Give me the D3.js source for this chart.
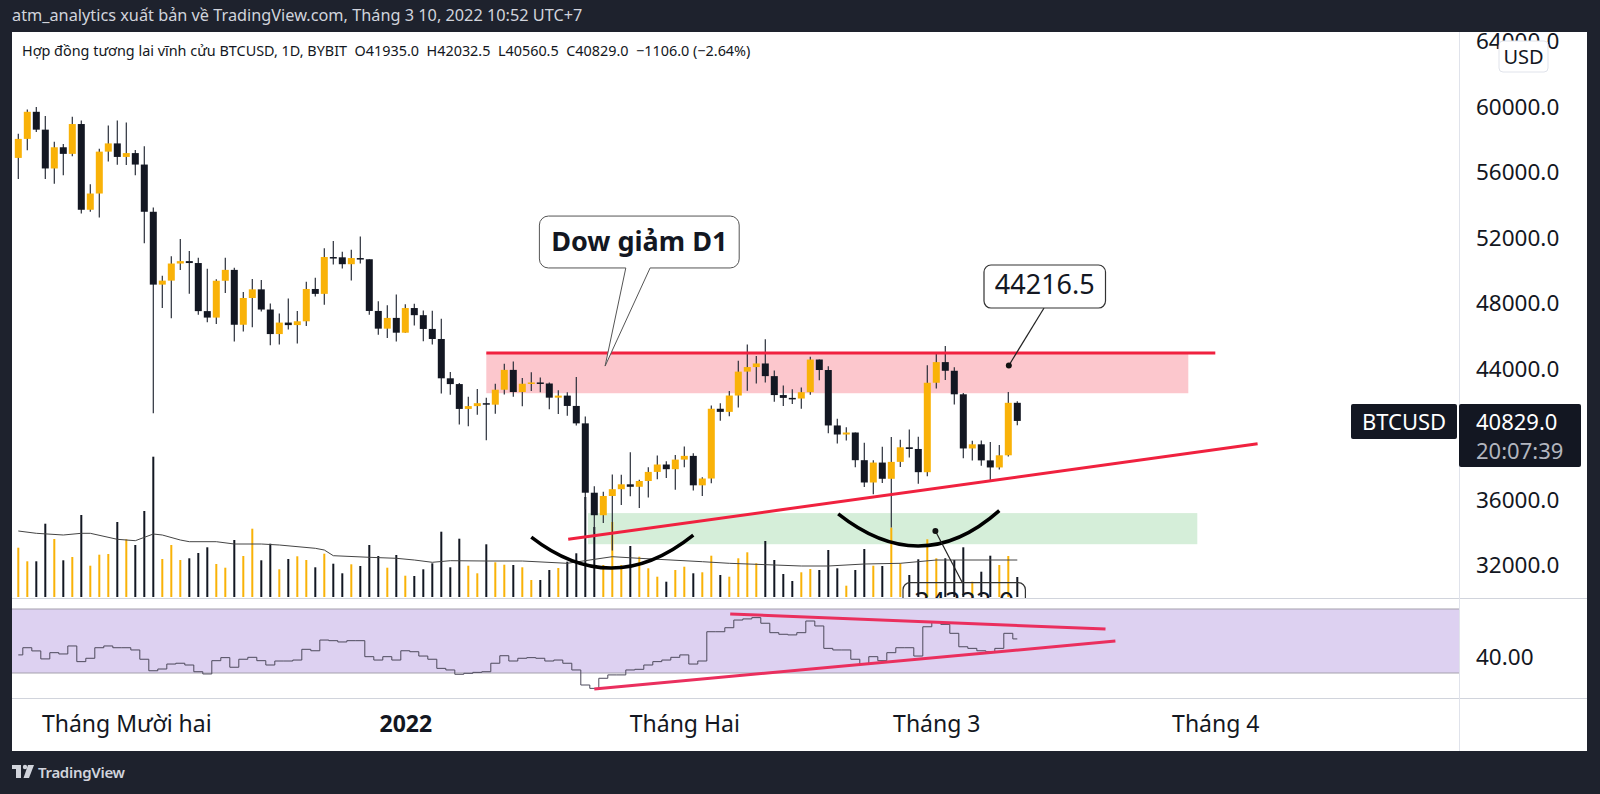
<!DOCTYPE html>
<html>
<head>
<meta charset="utf-8">
<script src="https://cdn.jsdelivr.net/npm/d3@7"></script>
<style>
  html, body { margin: 0; padding: 0; background: #1e222d; }
  svg { display: block; font-family: "Noto Sans", sans-serif; }
</style>
</head>
<body>
<div id="chart"></div>
<script>
// daily candles, Bybit BTCUSD, first bar 2021-11-19
const firstDay = Date.UTC(2021, 10, 19);

const opens = [56891, 58052, 59707, 58617, 56247, 57541, 57138, 58960, 53724, 54716, 57274, 57777,
  56951, 57185, 56485, 53602, 49153, 49397, 50441, 50588, 50471, 47535, 47140, 49389, 50053, 46702, 48336, 48864, 47632, 46133, 46835, 46681, 46914, 48887, 48588, 50838, 50820, 50400, 50775, 50702, 47545, 46464, 47120,
  46217, 47722, 47287, 46446, 45833, 43432, 43079, 41562, 41734, 41912, 41822, 42735, 43946, 42592, 43100, 43178, 43114, 42250, 42375, 41744, 40680, 36445, 35071, 36245, 36660, 36958, 36807, 37160, 37716, 38167, 37881,
  38467, 38694, 36896, 37312, 41572, 41382, 42380, 43840, 44118, 44338, 43565, 42408, 42236, 42197, 42586, 44578, 43938, 40552, 40000, 40121, 38431, 37069, 38286, 37296, 38328, 39219, 39116, 37699,
  43160, 44421, 43892, 42455, 39148, 39400, 38420, 37988, 38730, 41935];
const highs = [58373, 59845, 60000, 59444, 57875, 57735, 59398, 59180, 55281, 57445, 58865, 59176,
  59053, 57374, 57600, 53859, 49699, 50891, 51936, 51207, 50797, 50125, 49485, 50800, 50189, 48700, 49500, 49436, 47995, 47392, 48300, 47537, 49328, 49576, 51375, 51810, 51156, 51280, 52089, 50705, 48139, 47900, 48548,
  47954, 47990, 47570, 47557, 47070, 43816, 43146, 42300, 42786, 42248, 43100, 44322, 44458, 43448, 43800, 43478, 43180, 42700, 42579, 43505, 41100, 36835, 36499, 37550, 37545, 38919, 37235, 38000, 38720, 38360, 38745,
  39265, 38855, 37387, 41772, 41913, 42656, 44500, 45492, 44799, 45821, 43916, 43000, 42760, 42876, 44751, 44578, 44164, 40959, 40444, 40124, 39494, 38432, 39250, 39843, 39683, 40300, 39855, 44225,
  44950, 45400, 44102, 42527, 39613, 39640, 39547, 39362, 42594, 42032.5];
const lows = [55600, 57353, 58470, 55610, 55317, 55837, 56999, 53500, 53610, 53256, 56666, 56476,
  56459, 55837, 51680, 41300, 47727, 47100, 50039, 48600, 47320, 46852, 46751, 48638, 45672, 46290, 46547, 47511, 45456, 45500, 46406, 45558, 46630, 48421, 47920, 50384, 50142, 49412, 50449, 47313, 46096, 45900, 45678,
  46208, 46654, 45697, 45500, 42500, 42431, 40610, 40501, 41200, 39650, 41268, 42450, 42311, 41725, 42654, 42581, 41540, 41250, 41138, 40553, 35440, 34008, 34601, 32917, 35701, 36234, 35507, 36155, 37268, 37351, 36632,
  38000, 36586, 36250, 37026, 40843, 41116, 41645, 42666, 43117, 43174, 42000, 41748, 41870, 41570, 42428, 43310, 40073, 39450, 39639, 38000, 36800, 36350, 37037, 34322, 38015, 38600, 37000, 37450,
  42809, 43334, 41832, 38550, 38407, 38088, 37155, 37867, 38656, 40560.5];
const closes = [58052, 59707, 58617, 56247, 57541, 57138, 58960, 53724, 54716, 57274, 57777, 56951,
  57185, 56485, 53602, 49153, 49397, 50441, 50588, 50471, 47535, 47140, 49389, 50053, 46702, 48336, 48864, 47632, 46133, 46835, 46681, 46914, 48887, 48588, 50838, 50820, 50400, 50775, 50702, 47545, 46464, 47120, 46217,
  47722, 47287, 46446, 45833, 43432, 43079, 41562, 41734, 41912, 41822, 42735, 43946, 42592, 43100, 43178, 43114, 42250, 42375, 41744, 40680, 36445, 35071, 36245, 36660, 36958, 36807, 37160, 37716, 38167, 37881, 38467,
  38694, 36896, 37312, 41572, 41382, 42380, 43840, 44118, 44338, 43565, 42408, 42236, 42197, 42586, 44578, 43938, 40552, 40000, 40121, 38431, 37069, 38286, 37296, 38328, 39219, 39116, 37699, 43160,
  44421, 43892, 42455, 39148, 39400, 38420, 37988, 38730, 41935, 40829];
const volumes = [493, 357, 357, 733, 580, 367, 400, 820, 313, 423, 430, 750,
  577, 520, 860, 1403, 380, 520, 370, 387, 440, 497, 330, 293, 570, 410, 683, 367, 533, 277, 380, 407, 370, 297, 433, 333, 237, 327, 310, 520, 410, 293, 420,
  213, 210, 277, 337, 653, 297, 583, 313, 237, 527, 347, 323, 320, 297, 170, 170, 270, 290, 353, 437, 1000, 700, 320, 750, 320, 510, 403, 287, 203, 153, 270,
  303, 237, 247, 413, 220, 203, 387, 447, 337, 560, 370, 230, 160, 247, 280, 270, 470, 287, 113, 270, 480, 313, 310, 693, 337, 220, 377,
  577, 387, 387, 370, 497, 153, 253, 413, 320, 410, 200];
// volume moving average, [bar, value]
const volumeMA = [[0, 660], [2, 637], [5, 620], [7, 637], [8, 637], [11, 577], [13, 563], [15, 630], [16, 620], [18, 570], [19, 553],
  [22, 553], [24, 530], [27, 530], [29, 520], [33, 487], [34, 470], [35, 413], [39, 397], [42, 387], [44, 370], [46, 347], [48, 363],
  [52, 360], [56, 360], [61, 337], [66, 403], [69, 387], [76, 353], [79, 337], [87, 310], [90, 310], [94, 330], [98, 337], [102, 370],
  [105, 370], [111, 370]];
const rsiValues = [41.3, 45.8, 43.8, 38.8, 42.7, 41.9, 46.9, 37.1, 39.2, 45.8,
  46.9, 45.8, 45.8, 44.4, 38.6, 31.4, 32.5, 35.6, 36.1, 35.0,
  30.8, 29.4, 37.7, 39.6, 33.6, 38.6, 39.8, 37.7, 35.0, 37.5,
  37.5, 38.1, 44.8, 43.9, 50.6, 50.2, 49.4, 50.2, 50.2, 40.2,
  38.1, 40.2, 38.1, 43.9, 43.3, 40.6, 38.6, 32.9, 31.9, 29.2,
  29.8, 30.4, 30.8, 36.1, 40.8, 37.5, 39.2, 39.6, 39.2, 37.5,
  38.1, 36.1, 31.9, 22.5, 20.4, 26.7, 28.8, 28.8, 31.9, 32.3,
  35.0, 37.1, 38.1, 39.8, 41.3, 35.6, 37.5, 55.8, 55.8, 58.3,
  63.1, 63.8, 64.6, 61.1, 55.2, 54.2, 53.8, 55.2, 62.5, 59.4,
  45.4, 44.4, 44.4, 38.6, 35.6, 40.2, 37.7, 42.7, 45.8, 45.8,
  40.6, 58.9, 61.7, 60.4, 54.8, 46.4, 45.4, 43.9, 43.3, 45.4,
  54.8, 51.3];

// 40000.0 sits under the last-price label, so it is not listed
const priceTicks = [64000, 60000, 56000, 52000, 48000, 44000, 36000, 32000];
const rsiTicks = [40];
const timeTicks = [Date.UTC(2021, 11, 1), Date.UTC(2022, 0, 1), Date.UTC(2022, 1, 1), Date.UTC(2022, 2, 1), Date.UTC(2022, 3, 1)];
const timeLabels = ["Tháng Mười hai", "2022", "Tháng Hai", "Tháng 3", "Tháng 4"];

// drawings anchored at [bar, price]
const redZone = { from: 52, to: 130, top: 44980, bottom: 42520 };
const redLine = { from: 52, to: 133, price: 44980 };
const greenZone = { from: 63.3, to: 131, top: 35200, bottom: 33300 };
const riseLine = [[61.1, 33600], [137.7, 39440]];
const smiles = [[[57, 33740], [66, 31850], [75, 33860]], [[91.1, 35150], [100.2, 33190], [109, 35350]]];
const rsiUpper = [[79.1, 66.9], [120.8, 57.5]];
const rsiLower = [[64, 20], [121.9, 50]];
const dowNote = { text: "Dow giảm D1", box: [57.9, 80.1, 53340, 50170], tail: [67.5, 70.2, 65.2, 44180] };
const priceNotes = [
  { text: "44216.5", box: [107.3, 120.8, 50350, 47725], from: 113.97, anchor: [110.06, 44216.5] },
  { text: "34322.0", box: [98.3, 111.9, 30950, 28260], from: 104.9, anchor: [101.9, 34110] }
];

const width = 1600, height = 794;
const panel = { left: 12, right: 1587, top: 32, bottom: 751 };
const axisX = 1459, priceBottom = 598, rsiBottom = 698;
const upColor = "#f9b208", downColor = "#131722";

const svg = d3.select("#chart").append("svg").attr("width", width).attr("height", height);
svg.append("rect").attr("width", width).attr("height", height).attr("fill", "#1e222d");
svg.append("rect").attr("x", panel.left).attr("y", panel.top)
  .attr("width", panel.right - panel.left).attr("height", panel.bottom - panel.top).attr("fill", "#fff");

const dateAt = i => new Date(firstDay + i * 864e5);
const x = d3.scaleUtc().domain([dateAt(0), dateAt(111)]).range([18.3, 1017.3]);
const xi = i => x(dateAt(i));
const y = d3.scaleLinear().domain([44000, 60000]).range([369, 107]);
const yVol = d3.scaleLinear().domain([0, 1500]).range([597, 447]);
const yRsi = d3.scaleLinear().domain([30, 70]).range([673, 609]);

const defs = svg.append("defs");
defs.append("clipPath").attr("id", "clipPrice").append("rect")
  .attr("x", panel.left).attr("y", panel.top).attr("width", axisX - panel.left).attr("height", priceBottom - panel.top);
defs.append("clipPath").attr("id", "clipRsi").append("rect")
  .attr("x", panel.left).attr("y", priceBottom + 1).attr("width", axisX - panel.left).attr("height", rsiBottom - priceBottom - 1);
defs.append("clipPath").attr("id", "clipAxis").append("rect")
  .attr("x", axisX).attr("y", panel.top).attr("width", panel.right - axisX).attr("height", priceBottom - panel.top);

const candles = closes.map((c, i) => ({ i, o: opens[i], h: highs[i], l: lows[i], c, v: volumes[i], up: c >= opens[i] }));

// PRICE PANE
const pricePane = svg.append("g").attr("clip-path", "url(#clipPrice)");

pricePane.append("rect")
  .attr("x", xi(greenZone.from)).attr("y", y(greenZone.top))
  .attr("width", xi(greenZone.to) - xi(greenZone.from)).attr("height", y(greenZone.bottom) - y(greenZone.top))
  .attr("fill", "#d5eed9");
pricePane.append("rect")
  .attr("x", xi(redZone.from)).attr("y", y(redZone.top))
  .attr("width", xi(redZone.to) - xi(redZone.from)).attr("height", y(redZone.bottom) - y(redZone.top))
  .attr("fill", "#fcc7cd");

pricePane.append("g").selectAll("rect")
  .data(candles)
  .join("rect")
  .attr("x", d => xi(d.i) - 1)
  .attr("width", 2)
  .attr("y", d => yVol(d.v))
  .attr("height", d => yVol(0) - yVol(d.v))
  .attr("fill", d => d.up ? upColor : downColor);

pricePane.append("path")
  .datum(volumeMA)
  .attr("fill", "none")
  .attr("stroke", "#444")
  .attr("stroke-width", 1)
  .attr("d", d3.line().x(d => xi(d[0])).y(d => yVol(d[1])));

const candleG = pricePane.append("g");
candleG.selectAll("line")
  .data(candles)
  .join("line")
  .attr("x1", d => xi(d.i)).attr("x2", d => xi(d.i))
  .attr("y1", d => y(d.h)).attr("y2", d => y(d.l))
  .attr("stroke", "#2a2e39")
  .attr("stroke-width", 1.2);
candleG.selectAll("rect")
  .data(candles)
  .join("rect")
  .attr("x", d => xi(d.i) - 3.5)
  .attr("width", 7)
  .attr("y", d => y(Math.max(d.o, d.c)))
  .attr("height", d => Math.max(1.5, Math.abs(y(d.o) - y(d.c))))
  .attr("fill", d => d.up ? upColor : downColor);

// drawings
pricePane.append("line")
  .attr("x1", xi(redLine.from)).attr("x2", xi(redLine.to))
  .attr("y1", y(redLine.price)).attr("y2", y(redLine.price))
  .attr("stroke", "#f0213f").attr("stroke-width", 3);
pricePane.append("line")
  .attr("x1", xi(riseLine[0][0])).attr("y1", y(riseLine[0][1]))
  .attr("x2", xi(riseLine[1][0])).attr("y2", y(riseLine[1][1]))
  .attr("stroke", "#f0213f").attr("stroke-width", 3);

smiles.forEach(s => {
  const [p0, pm, p2] = s.map(d => [xi(d[0]), y(d[1])]);
  const cx = 2 * pm[0] - (p0[0] + p2[0]) / 2;
  const cy = 2 * pm[1] - (p0[1] + p2[1]) / 2;
  const p = d3.path();
  p.moveTo(p0[0], p0[1]);
  p.quadraticCurveTo(cx, cy, p2[0], p2[1]);
  pricePane.append("path").attr("d", p.toString())
    .attr("fill", "none").attr("stroke", "#000").attr("stroke-width", 3.5);
});

function boxPath(x0, y0, x1, y1, r, tail) {
  const p = d3.path();
  p.moveTo(x0 + r, y0);
  p.lineTo(x1 - r, y0);
  p.arcTo(x1, y0, x1, y0 + r, r);
  p.lineTo(x1, y1 - r);
  p.arcTo(x1, y1, x1 - r, y1, r);
  if (tail) {
    p.lineTo(tail[1], y1);
    p.lineTo(tail[2], tail[3]);
    p.lineTo(tail[0], y1);
  }
  p.lineTo(x0 + r, y1);
  p.arcTo(x0, y1, x0, y1 - r, r);
  p.lineTo(x0, y0 + r);
  p.arcTo(x0, y0, x0 + r, y0, r);
  p.closePath();
  return p.toString();
}

{
  const b = dowNote.box, t = dowNote.tail;
  const x0 = xi(b[0]), x1 = xi(b[1]), y0 = y(b[2]), y1 = y(b[3]);
  pricePane.append("path")
    .attr("d", boxPath(x0, y0, x1, y1, 9, [xi(t[0]), xi(t[1]), xi(t[2]), y(t[3])]))
    .attr("fill", "#fff").attr("stroke", "#555").attr("stroke-width", 1);
  pricePane.append("text")
    .attr("x", (x0 + x1) / 2).attr("y", (y0 + y1) / 2).attr("dy", "0.35em")
    .attr("text-anchor", "middle").attr("font-size", 27).attr("font-weight", 700).attr("fill", "#131722")
    .text(dowNote.text);
}

priceNotes.forEach(n => {
  const x0 = xi(n.box[0]), x1 = xi(n.box[1]), y0 = y(n.box[2]), y1 = y(n.box[3]);
  const ax = xi(n.anchor[0]), ay = y(n.anchor[1]);
  const below = ay < y0;
  pricePane.append("line")
    .attr("x1", xi(n.from)).attr("y1", below ? y0 : y1)
    .attr("x2", ax).attr("y2", ay)
    .attr("stroke", "#222").attr("stroke-width", 1.2);
  pricePane.append("circle").attr("cx", ax).attr("cy", ay).attr("r", 3).attr("fill", "#111");
  pricePane.append("path").attr("d", boxPath(x0, y0, x1, y1, 7))
    .attr("fill", below ? "none" : "#fff").attr("stroke", "#333").attr("stroke-width", 1.2);
  pricePane.append("text")
    .attr("x", (x0 + x1) / 2).attr("y", (y0 + y1) / 2 - 2).attr("dy", "0.35em")
    .attr("text-anchor", "middle").attr("font-size", 27).attr("fill", "#131722")
    .text(n.text);
});

svg.append("text")
  .attr("x", 22).attr("y", 56)
  .attr("font-size", 14.4).attr("fill", "#131722")
  .attr("xml:space", "preserve")
  .text("Hợp đồng tương lai vĩnh cửu BTCUSD, 1D, BYBIT  O41935.0  H42032.5  L40560.5  C40829.0  −1106.0 (−2.64%)");

// RSI PANE
const rsiPane = svg.append("g").attr("clip-path", "url(#clipRsi)");
rsiPane.append("rect")
  .attr("x", panel.left).attr("y", yRsi(70))
  .attr("width", axisX - panel.left).attr("height", yRsi(30) - yRsi(70))
  .attr("fill", "#ddd1f1");
[70, 30].forEach(v => rsiPane.append("line")
  .attr("x1", panel.left).attr("x2", axisX)
  .attr("y1", yRsi(v)).attr("y2", yRsi(v))
  .attr("stroke", "#a6a2ae").attr("stroke-width", 1.2));
rsiPane.append("path")
  .datum(rsiValues)
  .attr("fill", "none")
  .attr("stroke", "#4d4a5c")
  .attr("stroke-width", 1)
  .attr("d", d3.line().x((d, i) => xi(i)).y(d => yRsi(d)).curve(d3.curveStep));
[rsiUpper, rsiLower].forEach(l => rsiPane.append("line")
  .attr("x1", xi(l[0][0])).attr("y1", yRsi(l[0][1]))
  .attr("x2", xi(l[1][0])).attr("y2", yRsi(l[1][1]))
  .attr("stroke", "#ea2f5e").attr("stroke-width", 3));

// separators
svg.append("line").attr("x1", panel.left).attr("x2", panel.right).attr("y1", priceBottom + 0.5).attr("y2", priceBottom + 0.5)
  .attr("stroke", "#d1d4dc");
svg.append("line").attr("x1", panel.left).attr("x2", panel.right).attr("y1", rsiBottom + 0.5).attr("y2", rsiBottom + 0.5)
  .attr("stroke", "#d1d4dc");
svg.append("line").attr("x1", axisX + 0.5).attr("x2", axisX + 0.5).attr("y1", panel.top).attr("y2", panel.bottom)
  .attr("stroke", "#e0e3eb");

// AXES
const priceAxis = svg.append("g")
  .attr("clip-path", "url(#clipAxis)")
  .append("g")
  .attr("transform", `translate(${axisX},0)`)
  .call(d3.axisRight(y).tickValues(priceTicks).tickFormat(d3.format(".1f")).tickSize(0).tickPadding(17));
priceAxis.select(".domain").remove();
priceAxis.selectAll("text").attr("font-size", 22.5).attr("fill", "#131722").attr("font-family", "Noto Sans");

const rsiAxis = svg.append("g")
  .attr("transform", `translate(${axisX},0)`)
  .call(d3.axisRight(yRsi).tickValues(rsiTicks).tickFormat(d3.format(".2f")).tickSize(0).tickPadding(17));
rsiAxis.select(".domain").remove();
rsiAxis.selectAll("text").attr("font-size", 22.5).attr("fill", "#131722").attr("font-family", "Noto Sans");

const timeAxis = svg.append("g")
  .attr("transform", `translate(0,${rsiBottom})`)
  .call(d3.axisBottom(x).tickValues(timeTicks.map(t => new Date(t))).tickFormat((d, i) => timeLabels[i]).tickSize(0).tickPadding(18));
timeAxis.select(".domain").remove();
timeAxis.selectAll("text").attr("font-size", 23).attr("fill", "#131722").attr("font-family", "Noto Sans")
  .attr("font-weight", (d, i) => timeLabels[i] === "2022" ? 700 : 400);

// USD badge
svg.append("rect").attr("x", 1499).attr("y", 41).attr("width", 49).attr("height", 31).attr("rx", 4)
  .attr("fill", "#fff").attr("stroke", "#e0e3eb");
svg.append("text").attr("x", 1523.5).attr("y", 57).attr("dy", "0.35em").attr("text-anchor", "middle")
  .attr("font-size", 20).attr("fill", "#131722").text("USD");

// last price labels
const lastY = y(closes[closes.length - 1]);
svg.append("rect").attr("x", 1351).attr("y", lastY - 17).attr("width", 106).attr("height", 35).attr("rx", 2).attr("fill", "#131722");
svg.append("text").attr("x", 1404).attr("y", lastY + 1).attr("dy", "0.35em").attr("text-anchor", "middle")
  .attr("font-size", 22).attr("fill", "#fff").text("BTCUSD");
svg.append("rect").attr("x", axisX).attr("y", lastY - 17).attr("width", 122).attr("height", 63).attr("rx", 2).attr("fill", "#131722");
svg.append("text").attr("x", 1476).attr("y", lastY + 1).attr("dy", "0.35em")
  .attr("font-size", 22).attr("fill", "#fff").text(d3.format(".1f")(closes[closes.length - 1]));
svg.append("text").attr("x", 1476).attr("y", lastY + 30).attr("dy", "0.35em")
  .attr("font-size", 22).attr("fill", "#b2b5be").text("20:07:39");

// header and footer
svg.append("text").attr("x", 12).attr("y", 21)
  .attr("font-size", 16.3).attr("fill", "#d1d4dc")
  .text("atm_analytics xuất bản về TradingView.com, Tháng 3 10, 2022 10:52 UTC+7");

const logo = svg.append("g").attr("fill", "#d1d4dc");
logo.append("rect").attr("x", 12).attr("y", 765).attr("width", 9).attr("height", 4);
logo.append("rect").attr("x", 16).attr("y", 765).attr("width", 5).attr("height", 13);
logo.append("circle").attr("cx", 25).attr("cy", 767).attr("r", 2.2);
logo.append("polygon").attr("points", "28,765 34,765 29,778 23.5,778");
svg.append("text").attr("x", 38).attr("y", 778)
  .attr("font-size", 15).attr("font-weight", 600).attr("fill", "#d1d4dc").attr("letter-spacing", -0.3)
  .text("TradingView");
</script>
</body>
</html>
